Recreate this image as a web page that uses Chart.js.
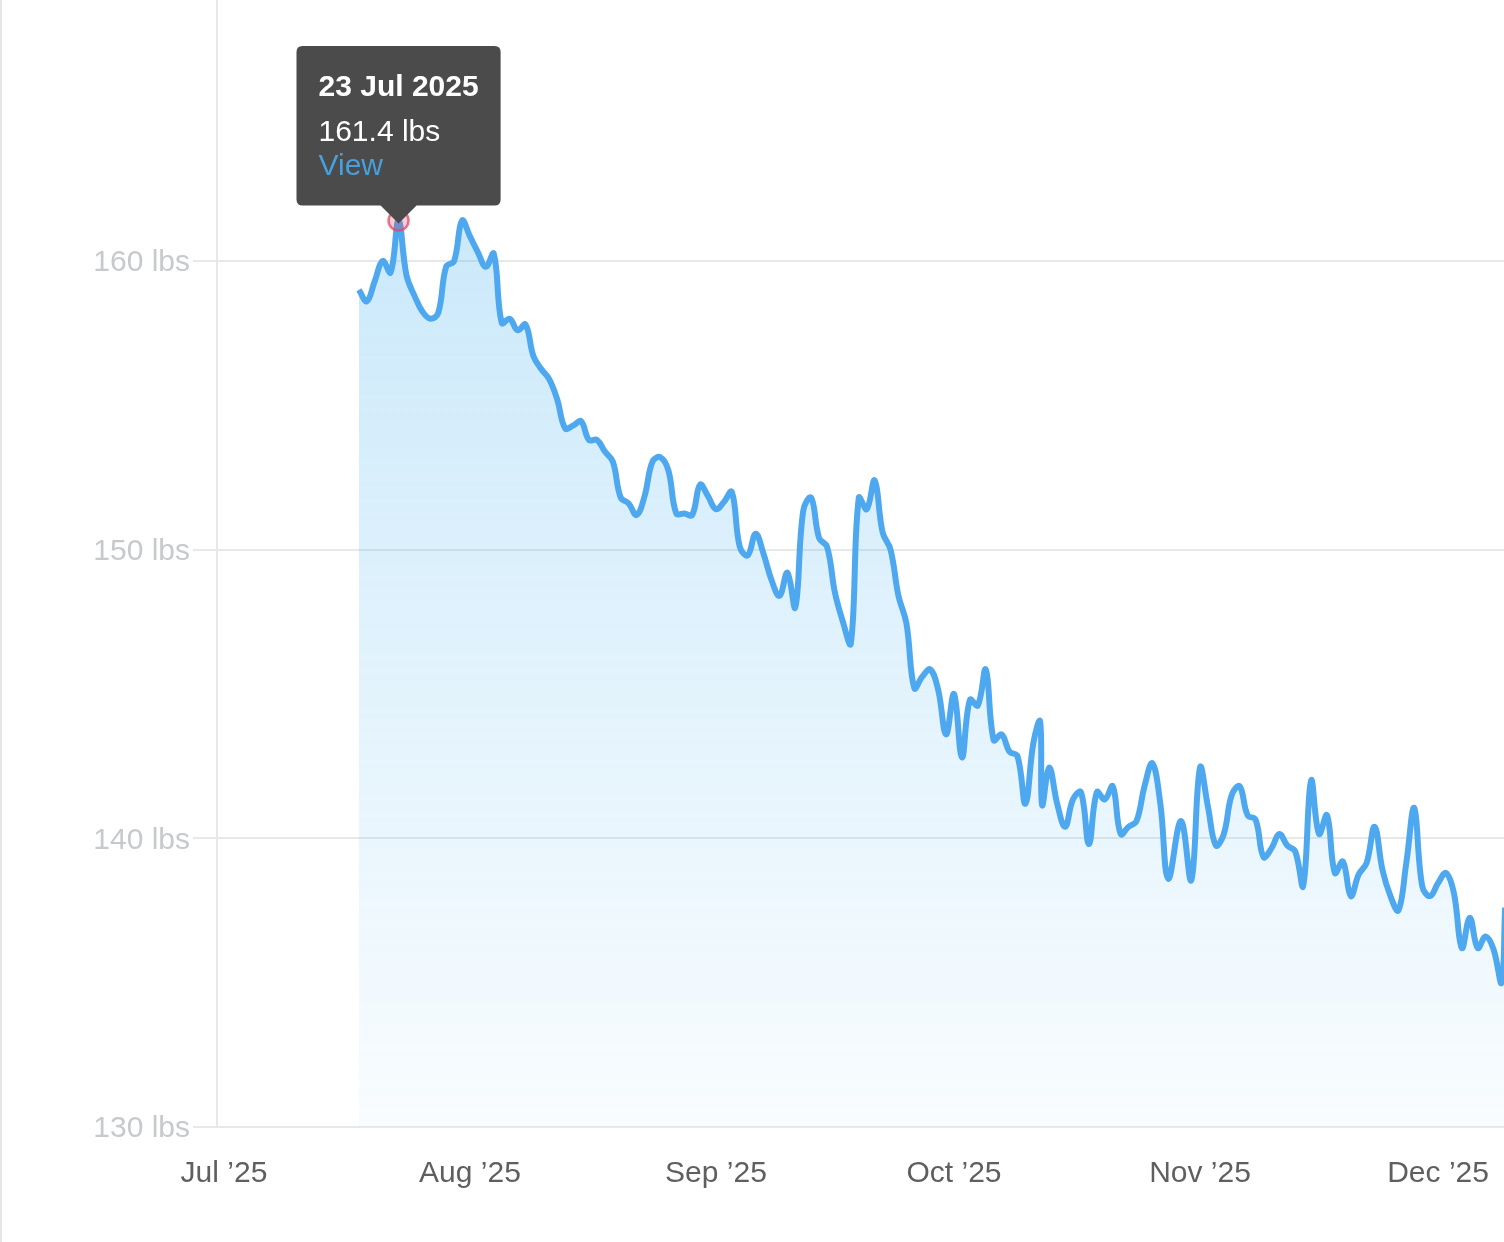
<!DOCTYPE html>
<html>
<head>
<meta charset="utf-8">
<title>Weight</title>
<script src="https://cdn.jsdelivr.net/npm/chart.js@4.4.1/dist/chart.umd.min.js"></script>
<style>
  html, body { margin: 0; padding: 0; background: #fff; }
  #wrap { position: relative; width: 1504px; height: 1242px; overflow: hidden; }
  #edge { position: absolute; left: 0; top: 0; width: 2px; height: 100%; background: #e6e6e6; }
</style>
</head>
<body>
<div id="wrap">
  <canvas id="weightChart"></canvas>
  <div id="edge"></div>
</div>
<script>
// day offsets counted from 1 Jul 2025
const days = [
  17, 18, 19, 20, 21, 22, 23, 24, 25, 26, 27, 28, 29, 30, 31, 32, 33, 34, 35, 36,
  37, 38, 39, 40, 41, 42, 43, 44, 45, 46, 47, 48, 49, 50, 51, 52, 53, 54, 55, 56,
  57, 58, 59, 60, 61, 62, 63, 64, 65, 66, 67, 68, 69, 70, 71, 72, 73, 74, 75, 76,
  77, 78, 79, 80, 81, 82, 83, 84, 85, 86, 87, 88, 89, 90, 91, 92, 93, 94, 95, 96,
  97, 98, 99, 100, 101, 102, 102.85, 103.1, 104, 105, 106, 107, 108, 109, 110, 111,
  112, 113, 114, 115, 116, 117, 118, 119, 120.6, 121.9, 123, 124, 125, 126, 127, 128,
  129, 130, 131, 132, 133, 134, 135, 136, 137, 138, 139, 140, 141, 142, 143, 144,
  145, 146, 147, 148, 149, 150, 151, 152, 153, 154, 155, 156, 157, 158, 159, 160,
  161, 161.45
];
const weights = [
  159.0, 158.6, 159.3, 160.0, 159.6, 161.4, 159.5, 158.8, 158.25, 158.0, 158.2, 159.8, 160.0, 161.4, 160.85, 160.3, 159.8, 160.25, 157.85, 158.0,
  157.6, 157.8, 156.7, 156.25, 155.9, 155.2, 154.2, 154.3, 154.45, 153.8, 153.8, 153.4, 153.05, 151.8, 151.6, 151.2, 151.85, 153.05, 153.2, 152.75,
  151.25, 151.25, 151.2, 152.25, 151.85, 151.4, 151.65, 152.0, 150.1, 149.8, 150.55, 149.85, 148.95, 148.4, 149.2, 148.0, 151.35, 151.8, 150.4, 150.1,
  148.5, 147.5, 146.75, 151.8, 151.4, 152.4, 150.6, 150.0, 148.4, 147.45, 145.2, 145.6, 145.85, 145.15, 143.6, 145.0, 142.8, 144.8, 144.6, 145.85,
  143.4, 143.6, 143.0, 142.85, 141.2, 143.3, 144.05, 141.15, 142.45, 141.2, 140.4, 141.35, 141.6, 139.8, 141.6, 141.35,
  141.8, 140.15, 140.4, 140.6, 141.8, 142.6, 141.2, 138.6, 140.6, 138.55, 142.45, 141.1, 139.75, 140.15, 141.5, 141.8,
  140.8, 140.65, 139.35, 139.65, 140.15, 139.75, 139.55, 138.35, 142.0, 140.15, 140.8, 138.8, 139.2, 138.0, 138.75, 139.15,
  140.4, 138.9, 138.0, 137.5, 139.15, 141.05, 138.35, 138.0, 138.45, 138.8, 138.1, 136.2, 137.25, 136.2, 136.6, 136.15,
  135.0, 137.6
];

const monthTicks = [0, 31, 62, 92, 123, 153];
const monthLabels = ["Jul \u201925", "Aug \u201925", "Sep \u201925", "Oct \u201925", "Nov \u201925", "Dec \u201925"];
const weightTicks = [130, 140, 150, 160];
const hoverIndex = 5; // 23 Jul 2025

const monthNames = ["Jan", "Feb", "Mar", "Apr", "May", "Jun", "Jul", "Aug", "Sep", "Oct", "Nov", "Dec"];
function dayToTitle(d) {
  const dt = new Date(Date.UTC(2025, 6, 1) + Math.floor(d) * 86400000);
  return dt.getUTCDate() + " " + monthNames[dt.getUTCMonth()] + " " + dt.getUTCFullYear();
}

const FONT = "'Helvetica Neue', Helvetica, Arial, 'Liberation Sans', sans-serif";

const points = days.map((d, i) => ({ x: d, y: weights[i] }));

const ctx = document.getElementById("weightChart").getContext("2d");
const chart = new Chart(ctx, {
  type: "line",
  data: {
    datasets: [
      {
        data: points,
        borderColor: "#4ea8f0",
        borderWidth: 6,
        tension: 0.4,
        pointRadius: 0,
        pointHoverRadius: 10,
        pointHoverBorderWidth: 2.5,
        pointHoverBorderColor: "rgba(226,72,102,0.75)",
        pointHoverBackgroundColor: "rgba(226,72,102,0.28)",
        fill: "start",
        backgroundColor: (c) => {
          const area = c.chart.chartArea;
          if (!area) return "rgba(90,185,240,0.2)";
          const g = c.chart.ctx.createLinearGradient(0, area.top, 0, area.bottom);
          g.addColorStop(0, "rgba(90,185,240,0.38)");
          g.addColorStop(1, "rgba(90,185,240,0.04)");
          return g;
        },
      },
    ],
  },
  options: {
    responsive: true,
    maintainAspectRatio: false,
    animation: false,
    events: [],
    layout: { padding: 0, autoPadding: false },
    plugins: {
      legend: { display: false },
      tooltip: {
        enabled: true,
        xAlign: "center",
        yAlign: "bottom",
        backgroundColor: "#4b4b4b",
        cornerRadius: 6,
        caretSize: 18,
        caretPadding: -3,
        displayColors: false,
        padding: { top: 24, bottom: 22, left: 22, right: 22 },
        titleColor: "#ffffff",
        titleFont: { family: FONT, size: 30, weight: "bold", lineHeight: 1.2 },
        titleMarginBottom: 10,
        bodyColor: "#ffffff",
        bodyFont: { family: FONT, size: 30, lineHeight: 1.1 },
        footerColor: "#479fdb",
        footerFont: { family: FONT, size: 30, weight: "normal", lineHeight: 1.1 },
        footerMarginTop: 1.5,
        callbacks: {
          title: (items) => dayToTitle(items[0].parsed.x),
          label: (item) => item.parsed.y.toFixed(1) + " lbs",
          footer: () => "View",
        },
      },
    },
    scales: {
      x: {
        type: "linear",
        min: -0.88,
        max: 161.31,
        grid: { display: false, drawTicks: false },
        border: { display: true, color: "#e8e8e8", width: 2 },
        ticks: {
          autoSkip: false,
          maxRotation: 0,
          padding: 29,
          color: "#5f5f5f",
          font: { family: FONT, size: 30 },
          callback: (v) => monthLabels[monthTicks.indexOf(v)],
        },
        afterBuildTicks: (s) => {
          s.ticks = monthTicks.map((v) => ({ value: v }));
        },
        afterFit: (s) => {
          s.height = 115;
          s.paddingLeft = 0;
          s.paddingRight = 0;
        },
      },
      y: {
        type: "linear",
        min: 130,
        max: 169.04,
        grid: { color: "#e8e8e8", lineWidth: 2, tickLength: 24, drawTicks: true },
        border: { display: true, color: "#e8e8e8", width: 2 },
        ticks: {
          padding: 3,
          labelOffset: 2,
          color: "#c6c9ce",
          font: { family: FONT, size: 30 },
          callback: (v) => v + " lbs",
        },
        afterBuildTicks: (s) => {
          s.ticks = weightTicks.map((v) => ({ value: v }));
        },
        afterFit: (s) => {
          s.width = 217;
          s.paddingTop = 0;
          s.paddingBottom = 0;
        },
      },
    },
  },
});

// show the hovered point with its tooltip, as in the screenshot
const active = [{ datasetIndex: 0, index: hoverIndex }];
chart.setActiveElements(active);
const meta = chart.getDatasetMeta(0).data[hoverIndex];
chart.tooltip.setActiveElements(active, { x: meta.x, y: meta.y });
chart.update();
</script>
</body>
</html>
